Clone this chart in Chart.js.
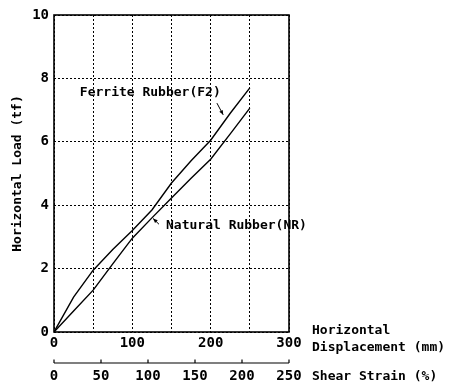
<!DOCTYPE html>
<html><head><meta charset="utf-8">
<script src="https://cdn.jsdelivr.net/npm/chart.js@4/dist/chart.umd.min.js"></script>
<style>html,body{margin:0;padding:0;background:#fff}</style>
</head>
<body>
<canvas id="c" width="460" height="388"></canvas>
<script>
const displacement = [0, 25, 50, 75, 100, 125, 150, 175, 200, 225, 250];
const ferriteLoad  = [0, 1.1, 1.95, 2.6, 3.2, 3.85, 4.7, 5.4, 6.05, 6.9, 7.7];
const naturalLoad  = [0, 0.66, 1.32, 2.15, 2.96, 3.6, 4.23, 4.85, 5.45, 6.25, 7.06];
const seriesNames = ['Ferrite Rubber(F2)', 'Natural Rubber(NR)'];
const xTickLabels = [0, 100, 200, 300];
const yTickLabels = [0, 2, 4, 6, 8, 10];
const strainTickLabels = [0, 50, 100, 150, 200, 250];
const xTitleLines = ['Horizontal', 'Displacement (mm)'];
const strainTitle = 'Shear Strain (%)';
const yTitle = 'Horizontal Load (tf)';

const FONT = "'DejaVu Sans Mono','Liberation Mono',monospace";
Chart.defaults.font.family = FONT;
Chart.defaults.font.weight = 'bold';
Chart.defaults.color = '#000';

const pts = (xs, ys) => xs.map((x, i) => ({x: x, y: ys[i]}));

const framePlugin = {
  id: 'frame',
  afterDraw(chart) {
    const {ctx, chartArea: a, scales} = chart;
    ctx.save();
    ctx.strokeStyle = '#000';
    ctx.lineWidth = 1.6;
    ctx.strokeRect(a.left, a.top, a.right - a.left, a.bottom - a.top);
    // secondary strain axis line + upward ticks
    const s = scales.x2;
    const yl = s.top;
    ctx.lineWidth = 1.2;
    ctx.beginPath();
    ctx.moveTo(s.getPixelForValue(0), yl);
    ctx.lineTo(s.getPixelForValue(250), yl);
    strainTickLabels.forEach(v => {
      const px = s.getPixelForValue(v);
      ctx.moveTo(px, yl);
      ctx.lineTo(px, yl - 3.5);
    });
    ctx.stroke();
    // axis titles on the right
    ctx.fillStyle = '#000';
    ctx.font = 'bold 13px ' + FONT;
    ctx.textBaseline = 'middle';
    ctx.textAlign = 'left';
    const xr = a.right + 23;
    ctx.fillText(xTitleLines[0], xr, 331);
    ctx.fillText(xTitleLines[1], xr, 348);
    ctx.fillText(strainTitle, xr, 377);
    // series annotations
    const X = scales.x, Y = scales.y;
    ctx.fillText(seriesNames[0], X.getPixelForValue(33), Y.getPixelForValue(7.54));
    ctx.fillText(seriesNames[1], X.getPixelForValue(143), Y.getPixelForValue(3.34));
    // arrows
    const arrow = (x1, y1, x2, y2) => {
      const p1 = [X.getPixelForValue(x1), Y.getPixelForValue(y1)];
      const p2 = [X.getPixelForValue(x2), Y.getPixelForValue(y2)];
      ctx.lineWidth = 1;
      ctx.beginPath();
      ctx.moveTo(p1[0], p1[1]);
      ctx.lineTo(p2[0], p2[1]);
      ctx.stroke();
      const ang = Math.atan2(p2[1] - p1[1], p2[0] - p1[0]);
      const L = 5;
      ctx.beginPath();
      ctx.moveTo(p2[0], p2[1]);
      ctx.lineTo(p2[0] - L * Math.cos(ang - 0.4), p2[1] - L * Math.sin(ang - 0.4));
      ctx.lineTo(p2[0] - L * Math.cos(ang + 0.4), p2[1] - L * Math.sin(ang + 0.4));
      ctx.closePath();
      ctx.fill();
    };
    arrow(208, 7.22, 216, 6.85);
    arrow(134, 3.4, 126.5, 3.58);
    ctx.restore();
  }
};

new Chart(document.getElementById('c'), {
  type: 'scatter',
  data: {
    datasets: [
      {label: seriesNames[0], data: pts(displacement, ferriteLoad), showLine: true,
       borderColor: '#000', borderWidth: 1.4, pointRadius: 0, tension: 0, xAxisID: 'x', yAxisID: 'y'},
      {label: seriesNames[1], data: pts(displacement, naturalLoad), showLine: true,
       borderColor: '#000', borderWidth: 1.4, pointRadius: 0, tension: 0, xAxisID: 'x', yAxisID: 'y'}
    ]
  },
  options: {
    responsive: false,
    animation: false,
    layout: {padding: {left: 0, right: 171, top: 15, bottom: 0}},
    plugins: {legend: {display: false}, tooltip: {enabled: false}},
    scales: {
      x: {
        type: 'linear', position: 'bottom', weight: 0, min: 0, max: 300,
        grid: {color: '#000', lineWidth: 1, drawTicks: false},
        border: {display: false, dash: [2, 2]},
        ticks: {stepSize: 50, autoSkip: false, maxRotation: 0, padding: 3,
                font: {size: 14},
                callback: v => xTickLabels.includes(v) ? String(v) : ''},
        afterFit: s => { s.height = 31; }
      },
      x2: {
        type: 'linear', position: 'bottom', weight: 1, min: 0, max: 250,
        grid: {display: false, drawTicks: false},
        border: {display: false},
        ticks: {stepSize: 50, autoSkip: false, maxRotation: 0, padding: 5,
                font: {size: 14},
                callback: v => strainTickLabels.includes(v) ? String(v) : ''},
        afterFit: s => { s.height = 25; }
      },
      y: {
        type: 'linear', position: 'left', min: 0, max: 10,
        grid: {color: '#000', lineWidth: 1, drawTicks: false},
        border: {display: false, dash: [2, 2]},
        ticks: {stepSize: 2, padding: 5, font: {size: 14},
                callback: v => yTickLabels.includes(v) ? String(v) : ''},
        title: {display: true, text: yTitle, font: {size: 13}, padding: {top: 10, bottom: 0}},
        afterFit: s => { s.width = 54; }
      }
    }
  },
  plugins: [framePlugin]
});
</script>
</body></html>
